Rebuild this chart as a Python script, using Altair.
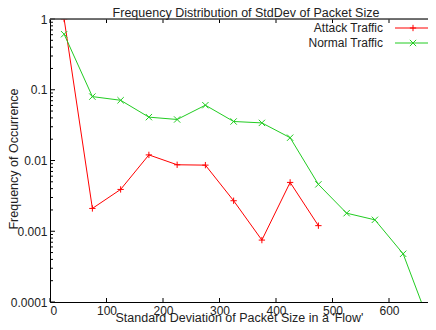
import altair as alt
import pandas as pd

# ---- data ----
bins = [25, 75, 125, 175, 225, 275, 325, 375, 425, 475, 525, 575, 625, 675]
attack = [1.0, 0.0021, 0.0039, 0.012, 0.0087, 0.0086, 0.0027, 0.00075, 0.0049, 0.0012]
normal = [0.61, 0.080, 0.071, 0.041, 0.038, 0.0605, 0.0356, 0.034, 0.021, 0.0046,
          0.0018, 0.00145, 0.00048, 0.000042]
series = ["Attack Traffic", "Normal Traffic"]
colors = ["#ff0000", "#22cc22"]
x_ticks = [0, 100, 200, 300, 400, 500, 600]
y_ticks = [1, 0.1, 0.01, 0.001, 0.0001]
y_minor = [m * d for d in [0.0001, 0.001, 0.01, 0.1] for m in range(2, 10)]
title_text = "Frequency Distribution of StdDev of Packet Size"
x_title = "Standard Deviation of Packet Size in a 'Flow'"
y_title = "Frequency of Occurrence"

W, H = 378, 283
FONT = "Liberation Sans"
TXT = "#222222"

df_a = pd.DataFrame({"x": bins[:len(attack)], "y": attack, "s": series[0]})
df_n = pd.DataFrame({"x": bins[:len(normal)], "y": normal, "s": series[1]})

xs = alt.Scale(domain=[0, 669], nice=False, zero=False)
ys = alt.Scale(type="log", domain=[0.0001, 1], nice=False)

plus = "M-1,0L1,0M0,-1L0,1"
cross = "M-1,-1L1,1M-1,1L1,-1"

xaxis = alt.Axis(values=x_ticks, ticks=False, grid=False, labelFontSize=12, labelFont=FONT,
                 labelColor=TXT, labelPadding=3, domainColor="#000", titleFont=FONT,
                 titleFontSize=12.5, titleFontWeight="normal", titleColor=TXT,
                 titleY=19.3, titleBaseline="alphabetic")
yaxis = alt.Axis(values=y_ticks, format="~g", ticks=False, grid=False, labelFontSize=12,
                 labelFont=FONT, labelColor=TXT, labelPadding=3, domainColor="#000",
                 titleFont=FONT, titleFontSize=12.5, titleFontWeight="normal", titleColor=TXT,
                 titleAngle=-90, titleX=-37, titleY=H / 2 - 2, titleAlign="center",
                 titleBaseline="middle")

def series_layers(df, color, shape):
    line = alt.Chart(df).mark_line(color=color, strokeWidth=1, clip=True).encode(
        x=alt.X("x:Q", scale=xs, axis=xaxis, title=x_title),
        y=alt.Y("y:Q", scale=ys, axis=yaxis, title=y_title),
    )
    pts = alt.Chart(df).mark_point(shape=shape, size=40, filled=False, color=color,
                                   strokeWidth=1, clip=True, opacity=1).encode(
        x=alt.X("x:Q", scale=xs), y=alt.Y("y:Q", scale=ys))
    return [line, pts]

# inward ticks
df_yt = pd.DataFrame({"v": y_ticks})
df_ym = pd.DataFrame({"v": y_minor})
df_xt = pd.DataFrame({"v": x_ticks})
tick_style = dict(color="#000", strokeWidth=1)
left_major = alt.Chart(df_yt).mark_rule(**tick_style).encode(
    y=alt.Y("v:Q", scale=ys), x=alt.value(0), x2=alt.value(5))
left_minor = alt.Chart(df_ym).mark_rule(**tick_style).encode(
    y=alt.Y("v:Q", scale=ys), x=alt.value(0), x2=alt.value(3))
bottom_t = alt.Chart(df_xt).mark_rule(**tick_style).encode(
    x=alt.X("v:Q", scale=xs), y=alt.value(H), y2=alt.value(H - 4))
top_t = alt.Chart(df_xt).mark_rule(**tick_style).encode(
    x=alt.X("v:Q", scale=xs), y=alt.value(0), y2=alt.value(4))
top_frame = alt.Chart(df_xt.head(1)).mark_rule(color="#444", strokeWidth=1.5).encode(
    x=alt.value(0), x2=alt.value(W), y=alt.value(0))

# chart title as a text element above the frame
title_mark = alt.Chart(pd.DataFrame({"t": [title_text]})).mark_text(
    align="center", baseline="alphabetic", font=FONT, fontSize=12.5, color=TXT).encode(
    text="t:N", x=alt.value(196), y=alt.value(-2.5))

# legend (manual, gnuplot style: label then sample)
leg = []
for i, (name, col, shp) in enumerate(zip(series, colors, [plus, cross])):
    d = pd.DataFrame({"t": [name]})
    yy = 9 + 15 * i
    leg.append(alt.Chart(d).mark_text(align="right", baseline="middle", font=FONT,
                                      fontSize=12, color=TXT).encode(
        text="t:N", x=alt.value(333), y=alt.value(yy)))
    leg.append(alt.Chart(d).mark_rule(color=col, strokeWidth=1).encode(
        x=alt.value(345), x2=alt.value(378), y=alt.value(yy)))
    leg.append(alt.Chart(d).mark_point(shape=shp, size=40, filled=False, color=col,
                                       strokeWidth=1, opacity=1).encode(
        x=alt.value(363), y=alt.value(yy)))

layers = (series_layers(df_a, colors[0], plus) + series_layers(df_n, colors[1], cross)
          + [left_major, left_minor, bottom_t, top_t, top_frame, title_mark] + leg)

chart = alt.layer(*layers).properties(
    width=W, height=H,
    autosize=alt.AutoSizeParams(type="none"),
    padding={"left": 42, "top": 11, "right": 0, "bottom": 20},
).configure_view(stroke=None).configure(background="white")

chart.save("out.html", embed_options={"renderer": "svg", "actions": False})
